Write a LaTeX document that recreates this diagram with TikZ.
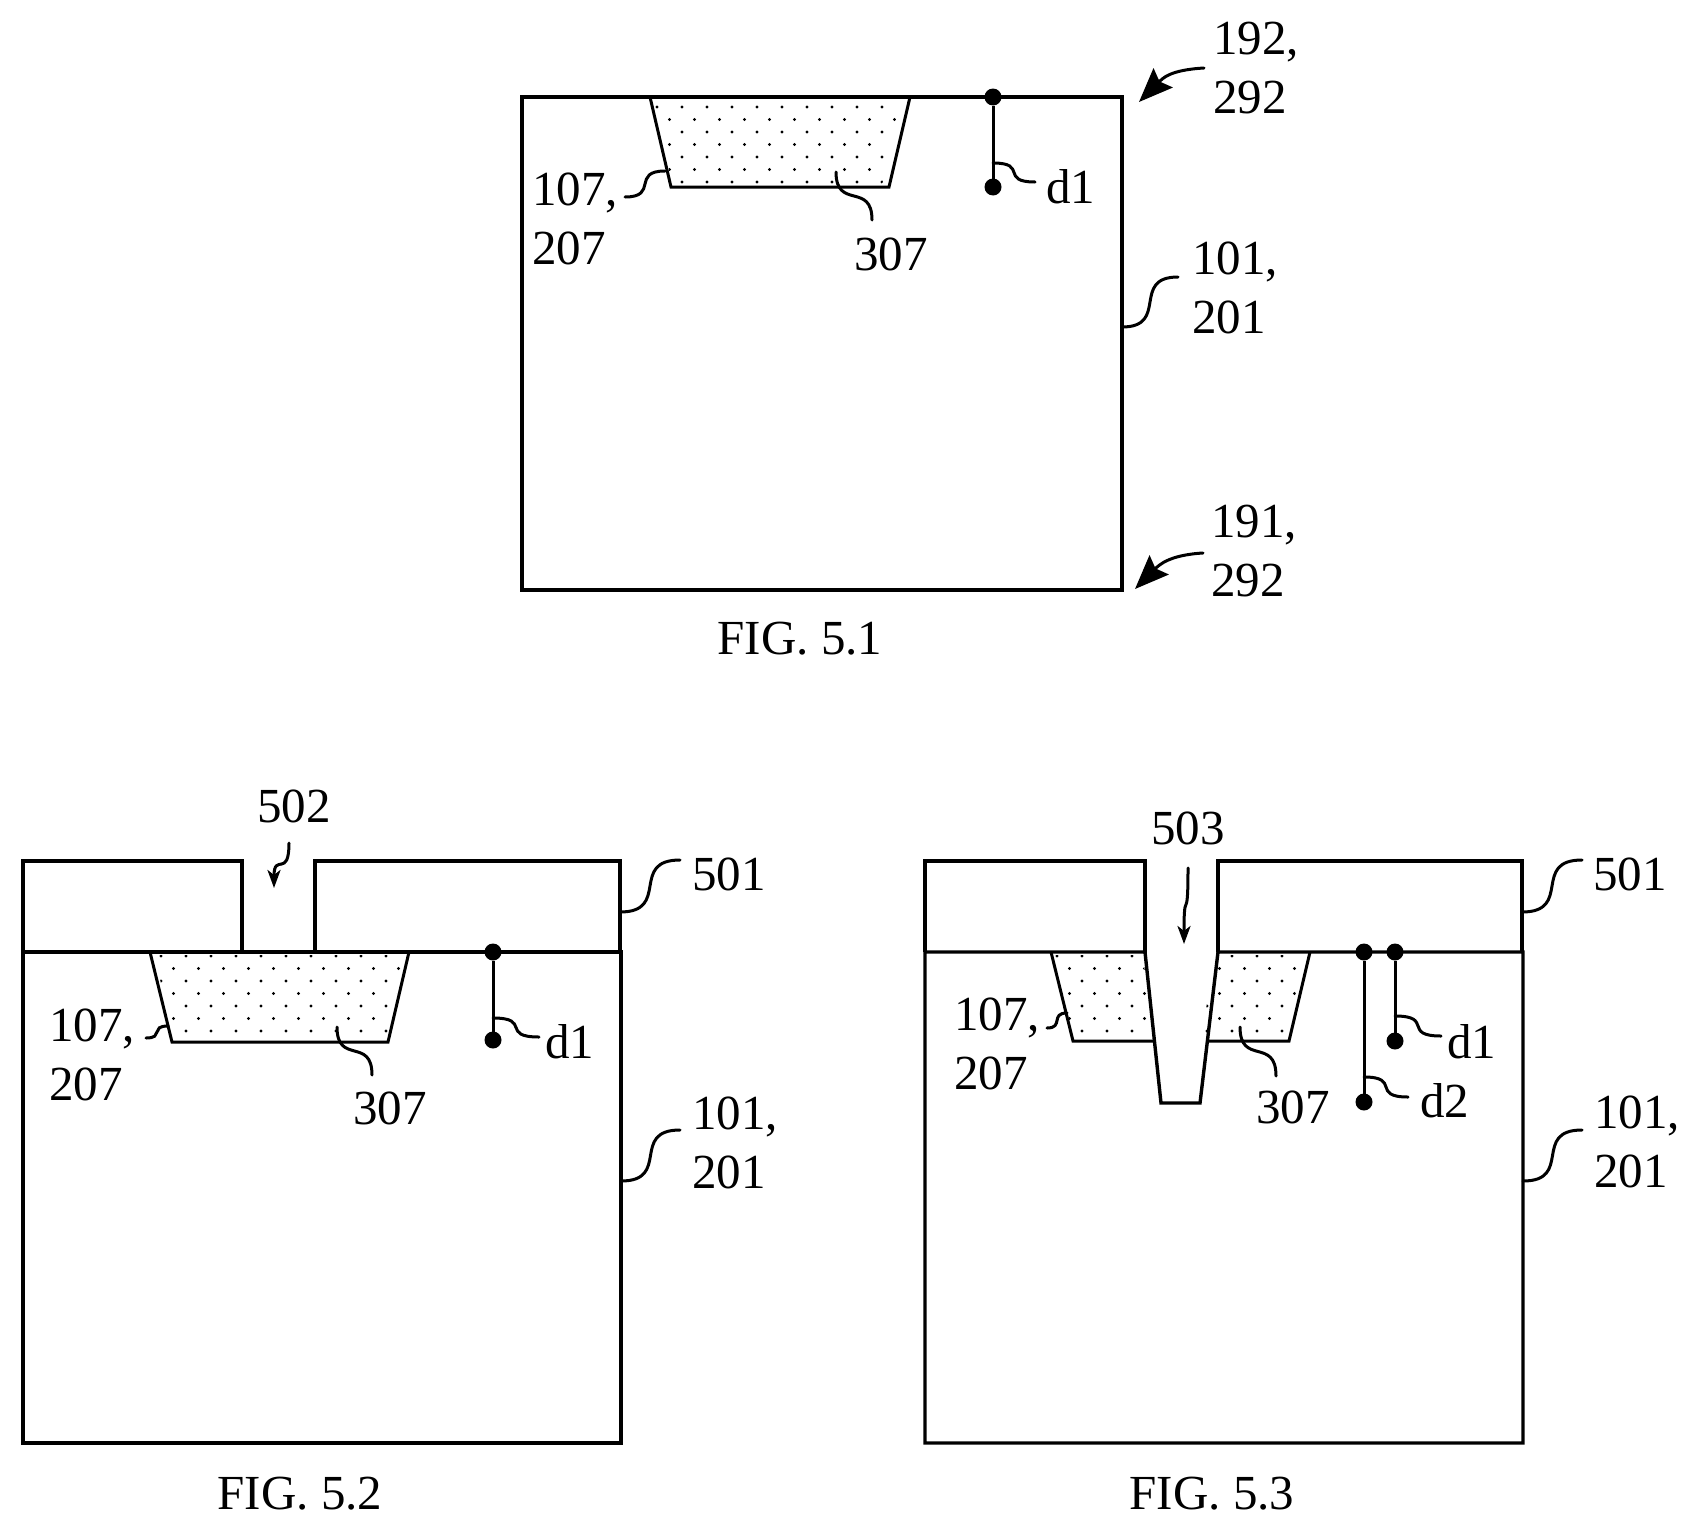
\documentclass[tikz,border=0pt]{standalone}
\usepackage{fontspec}
\setmainfont{Liberation Serif}
\usetikzlibrary{calc,arrows.meta}
\tikzset{
  lab/.style={inner sep=0pt,outer sep=0pt,font=\fontsize{49}{59}\selectfont,align=left,anchor=north west,text=black},
  one/.style={inner sep=0pt,outer sep=0pt,font=\fontsize{49}{59}\selectfont,anchor=base west,text=black},
  cap51/.style={inner sep=0pt,outer sep=0pt,font=\fontsize{49}{59}\selectfont,anchor=base,text=black},
  body/.style={draw=black,line width=3.4pt,line join=miter},
  pit/.style={draw=black,line width=3pt,line join=miter},
  thinl/.style={draw=black,line width=3pt},
  leader/.style={draw=black,line width=3pt,line cap=round},
  pin/.style={circle,fill=black,draw=none,minimum size=17pt,inner sep=0pt,outer sep=0pt},
  bighead/.style={-{Stealth[length=34pt,width=27pt,inset=5pt]}},
  smallhead/.style={-{Stealth[length=18pt,width=13pt,inset=5pt]}}
}
\newcommand{\hlead}[2]{\draw[leader] (#1) .. controls ($(#1)!.85!(#1 -| #2)$) and ($(#2)!.85!(#2 -| #1)$) .. (#2);}
\newcommand{\vlead}[3][]{\draw[leader,#1] (#2) .. controls ($(#2)!.8!(#3 -| #2)$) and ($(#3)!.8!(#2 -| #3)$) .. (#3);}
\newcommand{\dotgrid}[2]{%
  \foreach \i in {0,...,6} \foreach \j in {-1,...,12} {%
    \pgfmathsetmacro{\xx}{#1+\j*25+mod(\i,2)*12.5}%
    \pgfmathsetmacro{\yy}{#2+\i*12.5}%
    \fill[black] (\xx,\yy) circle (1.7);}}
\begin{document}
\begin{tikzpicture}[x=1pt,y=-1pt]
\useasboundingbox (0,0) rectangle (1699,1531);

% ---------- FIG. 5.1
\begin{scope}
  \clip (650,100) -- (901,100) -- (882,185) -- (673,185) -- cycle;
  \dotgrid{657}{107}
\end{scope}
\path[body] (522,97) rectangle (1122,590);
\draw[pit] (650,97) -- (671,187) -- (889,187) -- (910,97);
\node[pin] (pa1) at (993,97) {};
\node[pin] (pa2) at (993,187) {};
\draw[thinl] (pa1) -- (pa2);
\coordinate (da1) at (993,163); \coordinate (da2) at (1035,182);
\hlead{da1}{da2}
\node[one] (tda) at (1046,203) {d1};
\coordinate (la1) at (665,171); \coordinate (la2) at (625,197);
\hlead{la1}{la2}
\node[lab] (t107a) at (532,173) {107,\\207};
\coordinate (ma1) at (836,172); \coordinate (ma2) at (872,220);
\vlead{ma1}{ma2}
\node[one] (t307a) at (854,270) {307};
\coordinate (ra1) at (1122,327); \coordinate (ra2) at (1178,277);
\hlead{ra1}{ra2}
\node[lab] (t101a) at (1192,242) {101,\\201};
\coordinate (ua1) at (1204,68); \coordinate (ua2) at (1139,102);
\draw[leader,bighead] (ua1) .. controls +(-34,2) and +(24,-24) .. (ua2);
\node[lab] (t192) at (1213,22) {192,\\292};
\coordinate (ub1) at (1203,553); \coordinate (ub2) at (1135,589);
\draw[leader,bighead] (ub1) .. controls +(-34,2) and +(24,-24) .. (ub2);
\node[lab] (t191) at (1211,505) {191,\\292};
\node[cap51] (capa) at (800,654) {FIG. 5.1};

% ---------- FIG. 5.2
\begin{scope}
  \clip (154,955) -- (406,955) -- (386,1040) -- (175,1040) -- cycle;
  \dotgrid{161}{956}
\end{scope}
\path[body] (23,952) rectangle (621,1443);
\path[body] (23,952) -- (23,861) -- (242,861) -- (242,952);
\path[body] (315,952) -- (315,861) -- (620,861) -- (620,952);
\draw[pit] (150,952) -- (172,1042) -- (388,1042) -- (409,952);
\node[pin] (pb1) at (493,952) {};
\node[pin] (pb2) at (493,1040) {};
\draw[thinl] (pb1) -- (pb2);
\coordinate (db1) at (493,1018); \coordinate (db2) at (539,1037);
\hlead{db1}{db2}
\node[one] (tdb) at (545,1058) {d1};
\coordinate (lb1) at (168,1026); \coordinate (lb2) at (146,1038);
\hlead{lb1}{lb2}
\node[lab] (t107b) at (49,1009) {107,\\207};
\coordinate (mb1) at (337,1027); \coordinate (mb2) at (372,1075);
\vlead{mb1}{mb2}
\node[one] (t307b) at (353,1124) {307};
\coordinate (rb1) at (621,1181); \coordinate (rb2) at (680,1130);
\hlead{rb1}{rb2}
\node[lab] (t101b) at (692,1097) {101,\\201};
\coordinate (sb1) at (620,912); \coordinate (sb2) at (680,860);
\hlead{sb1}{sb2}
\node[one] (t501b) at (692,890) {501};
\coordinate (ab1) at (289,843); \coordinate (ab2) at (274,888);
\vlead[smallhead]{ab1}{ab2}
\node[one] (t502) at (257,822) {502};
\node[cap51] (capb) at (300,1509) {FIG. 5.2};

% ---------- FIG. 5.3
\begin{scope}
  \clip (1052,955) -- (1143,955) -- (1152,1038) -- (1074,1038) -- cycle;
  \dotgrid{1057}{956}
\end{scope}
\begin{scope}
  \clip (1212,955) -- (1305,955) -- (1285,1038) -- (1203,1038) -- cycle;
  \dotgrid{1057}{956}
\end{scope}
\path[body] (925,952) -- (1145,952) -- (1161,1103) -- (1200,1103) -- (1218,952) -- (1523,952) -- (1523,1443) -- (925,1443) -- cycle;
\path[body] (925,952) -- (925,861) -- (1145,861) -- (1145,952);
\path[body] (1218,952) -- (1218,861) -- (1522,861) -- (1522,952);
\draw[pit] (1051,952) -- (1073,1041) -- (1154,1041);
\draw[pit] (1208,1041) -- (1289,1041) -- (1310,952);
\node[pin] (pc1) at (1364,952) {};
\node[pin] (pc2) at (1364,1102) {};
\draw[thinl] (pc1) -- (pc2);
\node[pin] (pc3) at (1395,952) {};
\node[pin] (pc4) at (1395,1041) {};
\draw[thinl] (pc3) -- (pc4);
\coordinate (dc1) at (1395,1016); \coordinate (dc2) at (1441,1036);
\hlead{dc1}{dc2}
\node[one] (tdc1) at (1447,1058) {d1};
\coordinate (ec1) at (1364,1077); \coordinate (ec2) at (1408,1097);
\hlead{ec1}{ec2}
\node[one] (tdc2) at (1420,1117) {d2};
\coordinate (lc1) at (1067,1013); \coordinate (lc2) at (1047,1028);
\hlead{lc1}{lc2}
\node[lab] (t107c) at (954,998) {107,\\207};
\coordinate (mc1) at (1240,1027); \coordinate (mc2) at (1276,1076);
\vlead{mc1}{mc2}
\node[one] (t307c) at (1256,1123) {307};
\coordinate (rc1) at (1523,1181); \coordinate (rc2) at (1582,1130);
\hlead{rc1}{rc2}
\node[lab] (t101c) at (1594,1096) {101,\\201};
\coordinate (sc1) at (1522,912); \coordinate (sc2) at (1582,860);
\hlead{sc1}{sc2}
\node[one] (t501c) at (1593,890) {501};
\coordinate (ac1) at (1188,868); \coordinate (ac2) at (1184,944);
\vlead[smallhead]{ac1}{ac2}
\node[one] (t503) at (1151,844) {503};
\node[cap51] (capc) at (1212,1509) {FIG. 5.3};
\end{tikzpicture}
\end{document}
